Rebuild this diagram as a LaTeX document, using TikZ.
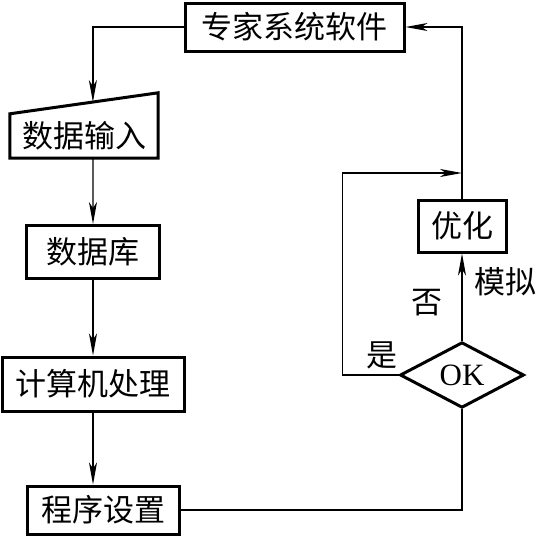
\documentclass[tikz,border=0pt]{standalone}
\usepackage{fontspec}
\setmainfont{Liberation Serif}
\newfontfamily\cjk{Noto Sans CJK SC}
\usetikzlibrary{arrows.meta,shapes.geometric,calc}

\begin{document}
\begin{tikzpicture}[x=1pt,y=-1pt,
  box/.style={draw, line width=3pt, inner sep=0pt, font=\cjk\fontsize{31}{37}\selectfont},
  lbl/.style={inner sep=0pt, font=\cjk\fontsize{31}{37}\selectfont},
  conn/.style={line width=1.3pt, -{Stealth[length=22pt,width=8pt,inset=6pt]}}]

\useasboundingbox (0,0) rectangle (538,536);

% left column
\node[box, minimum width=219pt, minimum height=48pt] (expert) at (294.5,27) {专家系统软件};
\node[lbl, minimum width=148pt, minimum height=44pt] (input) at (84,136) {数据输入};
\draw[line width=3pt] (input.south west) -- (input.south east)
  -- ([yshift=21pt]input.north east) -- (input.north west) -- cycle;
\coordinate (inTop) at ($(input.north west)!0.56!([yshift=21pt]input.north east)$);
\node[box, minimum width=133pt, minimum height=53pt] (db) at (93,252) {数据库};
\node[box, minimum width=182pt, minimum height=54pt] (calc) at (93,384) {计算机处理};
\node[box, minimum width=152pt, minimum height=48pt] (prog) at (103,510) {程序设置};

% right column
\node[box, minimum width=88pt, minimum height=52pt] (opt) at (462,226) {优化};
\node[box, diamond, minimum width=124pt, minimum height=60pt,
  font=\rmfamily\fontsize{31}{37}\selectfont] (ok) at (462,375) {OK};
\coordinate (loopEnd) at (462,173);

\node[lbl] (yes) at (382,355) {是};
\node[lbl] (no) at (427,303) {否};
\node[lbl] (sim) at (505,282) {模拟};

% connectors
\draw[conn] (expert.west) -| (inTop);
\draw[conn] (input.south -| inTop) -- (db.north);
\draw[conn] (db.south) -- (calc.north);
\draw[conn] (calc.south) -- (calc.south |- prog.north);
\draw[line width=1.3pt] (prog.east) -| (ok.south);
\draw[conn] (ok.north) -- (opt.south);
\draw[conn] (opt.north) |- (expert.east);
\draw[conn] (ok.west) -- ++(-56,0) |- (loopEnd);
\end{tikzpicture}
\end{document}
